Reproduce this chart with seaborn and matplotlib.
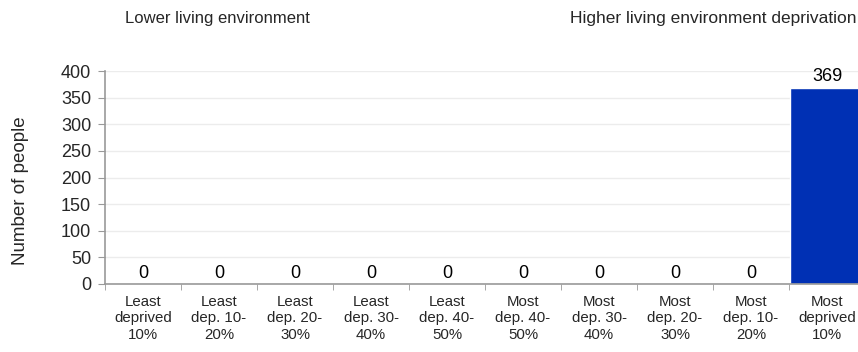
import pandas as pd
import matplotlib.pyplot as plt
import seaborn as sns

# deciles of living environment deprivation
categories = ['Least\ndeprived\n10%', 'Least\ndep. 10-\n20%', 'Least\ndep. 20-\n30%',
              'Least\ndep. 30-\n40%', 'Least\ndep. 40-\n50%', 'Most\ndep. 40-\n50%',
              'Most\ndep. 30-\n40%', 'Most\ndep. 20-\n30%', 'Most\ndep. 10-\n20%',
              'Most\ndeprived\n10%']
people = [0, 0, 0, 0, 0, 0, 0, 0, 0, 369]
y_ticks = [0, 50, 100, 150, 200, 250, 300, 350, 400]

sns.set_style('white')
plt.rcParams['font.family'] = ['Liberation Sans', 'DejaVu Sans']

df = pd.DataFrame({'decile': categories, 'people': people})

fig = plt.figure(figsize=(8.58, 3.52), dpi=100)
ax = fig.add_axes([0.1224, 0.1932, 0.8858, 0.605])

sns.barplot(data=df, x='decile', y='people', color='#0030B4', width=0.98,
            saturation=1, ax=ax)

ax.set_ylim(0, 400)
ax.set_xlim(-0.5, len(categories) - 0.5)
ax.set_yticks(y_ticks)
ax.tick_params(axis='y', labelsize=13, length=5, color='#999999', direction='out', left=True, pad=5)
ax.tick_params(axis='x', labelsize=10.8, length=0, pad=8)
ax.yaxis.grid(True, color='#ececec', linewidth=1)
ax.set_axisbelow(True)

# tick marks between categories
ax.set_xticks([i + 0.5 for i in range(-1, len(categories))], minor=True)
ax.tick_params(axis='x', which='minor', length=4, color='#999999', bottom=True)

for side in ['top', 'right']:
    ax.spines[side].set_visible(False)
for side in ['left', 'bottom']:
    ax.spines[side].set_color('#999999')
    ax.spines[side].set_linewidth(1.2)

for i, v in enumerate(people):
    ax.text(i, v + 4, f'{v}', ha='center', va='bottom', fontsize=13, color='black')

ax.set_xlabel('')
ax.set_ylabel('Number of people', fontsize=13.5)
ax.yaxis.set_label_coords(-0.1, 0.44)

fig.text(125 / 858, 1 - 19 / 352, 'Lower living environment', fontsize=12, va='center', ha='left')
fig.text(570 / 858, 1 - 19 / 352, 'Higher living environment deprivation', fontsize=12.5,
         va='center', ha='left')

fig.savefig('out.png', dpi=100)
